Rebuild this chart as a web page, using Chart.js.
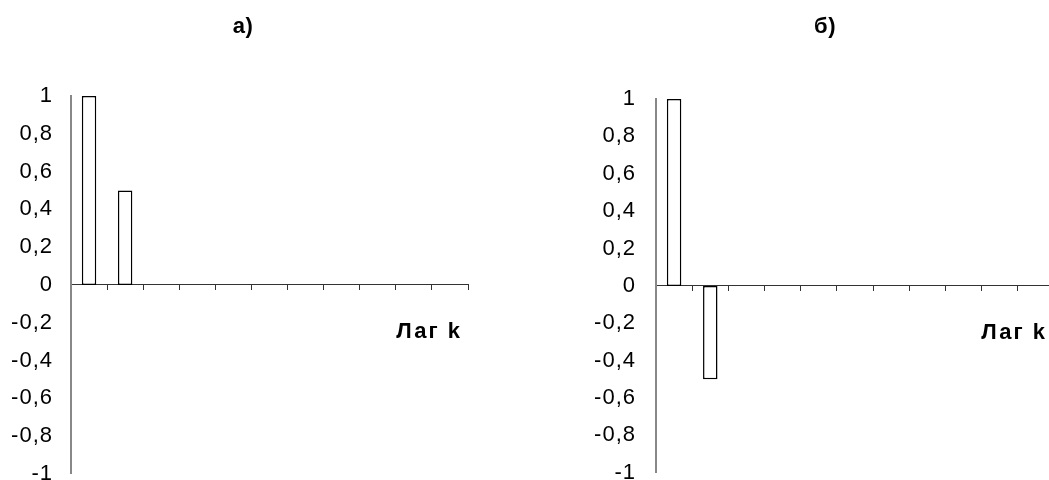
<!DOCTYPE html>
<html>
<head>
<meta charset="utf-8">
<script src="https://cdn.jsdelivr.net/npm/chart.js@4/dist/chart.umd.min.js"></script>
<style>
  html, body { margin: 0; padding: 0; background: #fff; overflow: hidden; }
  body { width: 1049px; height: 480px; position: relative; }
  .box { position: absolute; top: 0; }
  #boxA { left: 0; width: 524px; height: 505px; }
  #boxB { left: 524px; width: 556px; height: 506px; }
</style>
</head>
<body>
<div class="box" id="boxA"><canvas id="chartA"></canvas></div>
<div class="box" id="boxB"><canvas id="chartB"></canvas></div>
<script>
// lags 0..10
var lags = ['0', '1', '2', '3', '4', '5', '6', '7', '8', '9', '10'];
var acfA = [1, 0.5, null, null, null, null, null, null, null, null, null];
var acfB = [1, -0.5, null, null, null, null, null, null, null, null, null];
var titleA = 'а)';
var titleB = 'б)';
var axisName = 'Лаг k';

var FONT = "'Liberation Sans', Arial, sans-serif";

// the reference text is a bit wide, spread the tick labels out
var spacing = {
    id: 'spacing',
    beforeDraw: function (chart) {
        chart.ctx.letterSpacing = '1px';
    }
};

// titles and the "Лаг k" caption
var captions = {
    id: 'captions',
    afterDraw: function (chart) {
        var o = chart.options.plugins.captions;
        var ctx = chart.ctx;
        var area = chart.chartArea;
        var y = chart.scales.y;
        ctx.save();
        ctx.fillStyle = '#000';
        ctx.textBaseline = 'middle';
        ctx.textAlign = 'center';
        ctx.font = 'bold 22px ' + FONT;
        ctx.letterSpacing = '0.5px';
        ctx.fillText(o.title, area.left + o.titleX, 27);
        ctx.textAlign = 'right';
        ctx.letterSpacing = '2px';
        ctx.fillText(axisName, area.right - o.nameRight, y.getPixelForValue(-0.25));
        ctx.restore();
    }
};

function makeChart(id, data, opts) {
    var ctx = document.getElementById(id);
    return new Chart(ctx, {
        type: 'bar',
        data: {
            labels: lags,
            datasets: [{
                data: data,
                backgroundColor: '#fff',
                borderColor: '#000',
                borderWidth: 1.5,
                borderSkipped: false,
                barPercentage: 0.4,
                categoryPercentage: 1
            }]
        },
        options: {
            responsive: true,
            maintainAspectRatio: false,
            animation: false,
            layout: {
                padding: { left: 0, right: opts.padRight, top: opts.padTop, bottom: opts.padBottom }
            },
            plugins: {
                legend: { display: false },
                tooltip: { enabled: false },
                captions: { title: opts.title, titleX: opts.titleX, nameRight: opts.nameRight }
            },
            scales: {
                x: {
                    position: { y: 0 },
                    offset: true,
                    ticks: { display: false },
                    grid: {
                        offset: true,
                        drawOnChartArea: false,
                        drawTicks: true,
                        tickLength: 5,
                        color: '#333',
                        lineWidth: 1
                    },
                    border: { display: true, color: '#333', width: 1 }
                },
                y: {
                    min: -1,
                    max: 1,
                    afterFit: function (scale) { scale.width = opts.yWidth; },
                    ticks: {
                        stepSize: 0.2,
                        padding: opts.labelGap,
                        color: '#000',
                        font: { family: FONT, size: 22 },
                        callback: function (v) {
                            var r = Math.round(v * 10) / 10;
                            return String(r).replace('.', ',');
                        }
                    },
                    grid: { display: false, drawTicks: false },
                    border: { display: true, color: '#888', width: 2 }
                }
            }
        },
        plugins: [spacing, captions]
    });
}

makeChart('chartA', acfA, {
    title: titleA, titleX: 172, nameRight: 6,
    yWidth: 71, labelGap: 18,
    padRight: 56, padTop: 96, padBottom: 21
});
makeChart('chartB', acfB, {
    title: titleB, titleX: 169, nameRight: 7,
    yWidth: 132, labelGap: 20,
    padRight: 26, padTop: 99, padBottom: 20
});
</script>
</body>
</html>
